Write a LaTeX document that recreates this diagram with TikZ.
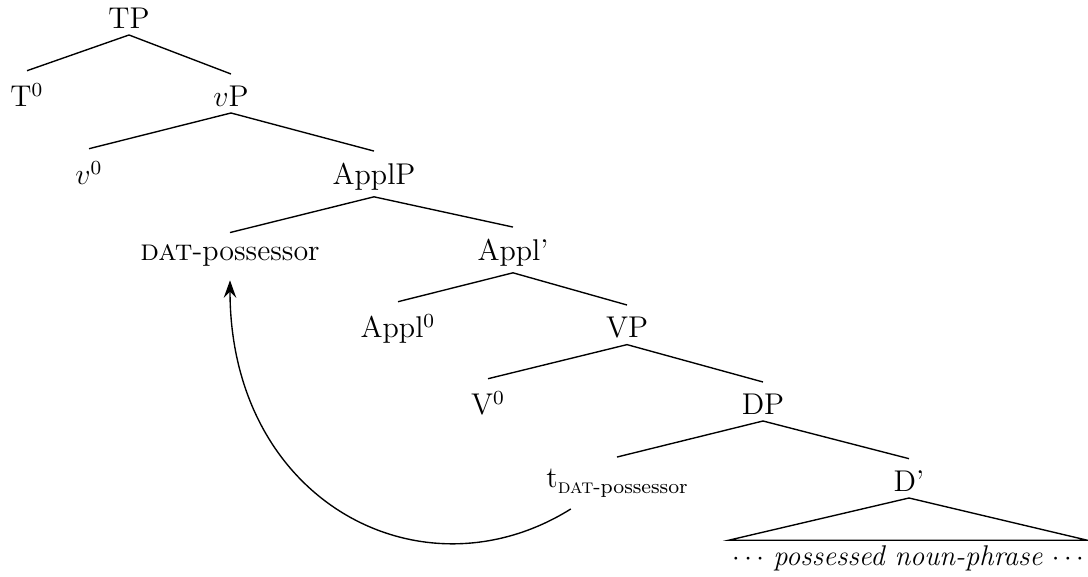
\documentclass[tikz,border=0pt]{standalone}
\usepackage{fontspec}
\usetikzlibrary{arrows.meta,positioning}

\begin{document}
\begin{tikzpicture}[
    x=0.4pt, y=-0.4pt,
    every node/.style={
        anchor=base,
        inner xsep=0pt,
        inner ysep=2.2pt,
        font=\fontsize{12}{14}\selectfont
    },
    branch/.style={
        line width=0.55pt
    },
    movement/.style={
        line width=0.55pt,
        -{Stealth[length=7pt,width=5pt,inset=2.5pt]},
        shorten >=3pt
    }
]
\useasboundingbox (0,0) rectangle (1088,577);

% Nodes
\node (tp)       at (129,29)  {TP};
\node (tzero)    at (27,107)  {T$^0$};
\node (littlevp) at (231,107) {$v$P};
\node (vzero)    at (89,185)  {$v^0$};
\node (applp)    at (374,185) {ApplP};
\node (datposs)  at (230,261) {\textsc{dat}-possessor};
\node (applbar)  at (513,261) {Appl’};
\node (applzero) at (398,338) {Appl$^0$};
\node (bigvp)    at (627,338) {VP};
\node (bigvzero) at (488,415) {V$^0$};
\node (dp)       at (763,415) {DP};
\node (trace)    at (617,488) {t\raisebox{-2.4pt}{\fontsize{8.2}{10}\selectfont\textsc{dat}-possessor}};
\node (dbar)     at (909,492) {D’};
\node (possnp) [font=\fontsize{11.4}{14}\selectfont, minimum width=143pt] at (908,566)
    {$\cdots$ \textit{possessed noun-phrase} $\cdots$};

% Branches
\draw[branch] (tp.south) -- ([yshift=2.6pt]tzero.north);
\draw[branch] (tp.south) -- ([yshift=2.6pt]littlevp.north);
\draw[branch] (littlevp.south) -- ([yshift=2.6pt]vzero.north);
\draw[branch] (littlevp.south) -- ([yshift=2.6pt]applp.north);
\draw[branch] (applp.south) -- ([yshift=2.6pt]datposs.north);
\draw[branch] (applp.south) -- ([yshift=2.6pt]applbar.north);
\draw[branch] (applbar.south) -- ([yshift=2.6pt]applzero.north);
\draw[branch] (applbar.south) -- ([yshift=2.6pt]bigvp.north);
\draw[branch] (bigvp.south) -- ([yshift=2.6pt]bigvzero.north);
\draw[branch] (bigvp.south) -- ([yshift=2.6pt]dp.north);
\draw[branch] (dp.south) -- ([yshift=2.6pt]trace.north);
\draw[branch] (dp.south) -- ([yshift=2.6pt]dbar.north);
\draw[branch] (dbar.south) -- (possnp.north west) -- (possnp.north east) -- cycle;

% Movement
\draw[movement] ([xshift=10pt,yshift=-2pt]trace.south west)
    .. controls +(212:70pt) and +(270:92pt) .. (datposs.south);

\end{tikzpicture}
\end{document}
